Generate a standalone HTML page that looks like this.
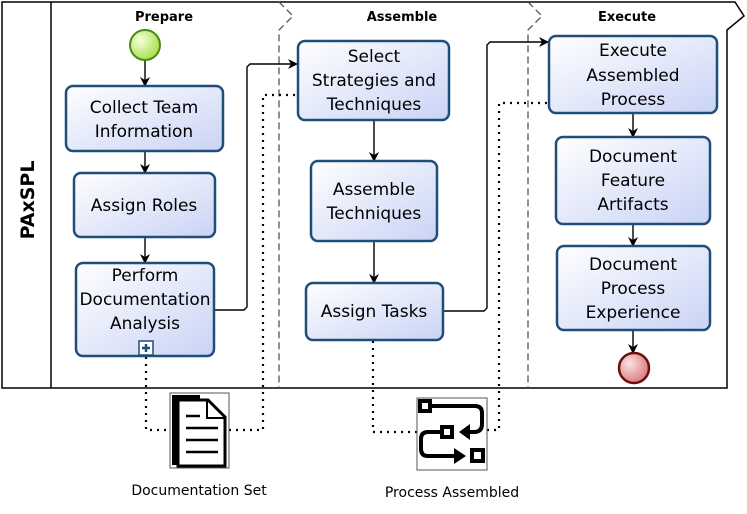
<!DOCTYPE html>
<html><head><meta charset="utf-8"><style>
html,body{margin:0;padding:0;background:#fff;width:747px;height:514px;overflow:hidden}
svg{display:block}
.t{font-family:"DejaVu Sans","Liberation Sans",sans-serif;font-size:17px;fill:#000;text-anchor:middle}
.h{font-family:"DejaVu Sans","Liberation Sans",sans-serif;font-size:13px;font-weight:bold;text-anchor:middle}
.s{font-family:"DejaVu Sans","Liberation Sans",sans-serif;font-size:14px;text-anchor:middle}
.box{fill:url(#g);stroke:#1f4e79;stroke-width:2.5}
.c{fill:none;stroke:#000;stroke-width:1.4}
.d{fill:none;stroke:#000;stroke-width:2.2;stroke-dasharray:2 5}
</style></head><body>
<svg width="747" height="514" viewBox="0 0 747 514" xmlns="http://www.w3.org/2000/svg">
<defs>
<linearGradient id="g" x1="0" y1="0" x2="1" y2="1"><stop offset="0" stop-color="#ffffff"/><stop offset="1" stop-color="#c9d3f5"/></linearGradient>
<radialGradient id="gs" cx="0.35" cy="0.35" r="0.7"><stop offset="0" stop-color="#f4ffd8"/><stop offset="1" stop-color="#a6e04a"/></radialGradient>
<radialGradient id="ge" cx="0.35" cy="0.35" r="0.7"><stop offset="0" stop-color="#fbe0e0"/><stop offset="1" stop-color="#d97a7a"/></radialGradient>
<marker id="a" viewBox="0 0 10 10" refX="9" refY="5" markerWidth="10" markerHeight="10" orient="auto" markerUnits="userSpaceOnUse"><path d="M0,0 L10,5 L0,10 L3,5 z" fill="#000"/></marker>
</defs>
<path d="M2,2 L735,2 L744,16 L727,30 L727,388 L2,388 Z" fill="none" stroke="#000" stroke-width="1.5"/>
<line x1="51" y1="2" x2="51" y2="388" stroke="#000" stroke-width="1.5"/>
<text class="h" transform="translate(34,200) rotate(-90)" style="font-size:19px">PAxSPL</text>
<path d="M279,2 L293,16 L279,30 L279,388" fill="none" stroke="#555" stroke-width="1.3" stroke-dasharray="7 4"/>
<path d="M528,2 L542,16 L528,30 L528,388" fill="none" stroke="#555" stroke-width="1.3" stroke-dasharray="7 4"/>
<text class="h" x="164" y="21">Prepare</text>
<text class="h" x="402" y="21">Assemble</text>
<text class="h" x="627" y="21">Execute</text>
<line class="c" x1="145" y1="60" x2="145" y2="86" marker-end="url(#a)"/>
<line class="c" x1="145" y1="151" x2="145" y2="173" marker-end="url(#a)"/>
<line class="c" x1="145" y1="237" x2="145" y2="263" marker-end="url(#a)"/>
<path class="c" d="M214,310 L244,310 L247,307 L247,67 L250,64 L297,64" marker-end="url(#a)"/>
<line class="c" x1="374" y1="120" x2="374" y2="161" marker-end="url(#a)"/>
<line class="c" x1="374" y1="241" x2="374" y2="283" marker-end="url(#a)"/>
<path class="c" d="M443,311 L484,311 L487,308 L487,45 L490,42 L548,42" marker-end="url(#a)"/>
<line class="c" x1="633" y1="113" x2="633" y2="137" marker-end="url(#a)"/>
<line class="c" x1="633" y1="224" x2="633" y2="246" marker-end="url(#a)"/>
<line class="c" x1="633" y1="330" x2="633" y2="353" marker-end="url(#a)"/>
<path class="d" d="M146,357 L146,430 L170,430"/>
<path class="d" d="M229,430 L263,430 L263,95 L298,95"/>
<path class="d" d="M373,341 L373,432 L417,432"/>
<path class="d" d="M487,430 L499,430 L499,103 L549,103"/>
<circle cx="145" cy="45" r="15" fill="url(#gs)" stroke="#4a8a10" stroke-width="2"/>
<circle cx="634" cy="368" r="15" fill="url(#ge)" stroke="#6b0f0f" stroke-width="2.5"/>
<rect class="box" x="66" y="86" width="157" height="65" rx="7"/>
<text class="t" x="144" y="113">Collect Team</text><text class="t" x="144" y="137">Information</text>
<rect class="box" x="74" y="173" width="141" height="64" rx="7"/>
<text class="t" x="144" y="211">Assign Roles</text>
<rect class="box" x="76" y="263" width="138" height="93" rx="7"/>
<text class="t" x="145" y="281">Perform</text><text class="t" x="145" y="305">Documentation</text><text class="t" x="145" y="329">Analysis</text>
<rect x="139" y="341" width="14" height="14" fill="#fff" stroke="#1f4e79" stroke-width="1.5"/>
<path d="M146,344 V352 M142,348 H150" stroke="#1f4e79" stroke-width="2.5"/>
<rect class="box" x="298" y="41" width="151" height="79" rx="7"/>
<text class="t" x="374" y="62">Select</text><text class="t" x="374" y="86">Strategies and</text><text class="t" x="374" y="110">Techniques</text>
<rect class="box" x="311" y="161" width="126" height="80" rx="7"/>
<text class="t" x="374" y="195">Assemble</text><text class="t" x="374" y="219">Techniques</text>
<rect class="box" x="306" y="283" width="137" height="57" rx="7"/>
<text class="t" x="374" y="317">Assign Tasks</text>
<rect class="box" x="549" y="36" width="168" height="77" rx="7"/>
<text class="t" x="633" y="56">Execute</text><text class="t" x="633" y="81">Assembled</text><text class="t" x="633" y="105">Process</text>
<rect class="box" x="556" y="137" width="154" height="87" rx="7"/>
<text class="t" x="633" y="162">Document</text><text class="t" x="633" y="186">Feature</text><text class="t" x="633" y="210">Artifacts</text>
<rect class="box" x="557" y="246" width="153" height="84" rx="7"/>
<text class="t" x="633" y="270">Document</text><text class="t" x="633" y="294">Process</text><text class="t" x="633" y="318">Experience</text>
<rect x="170" y="393" width="59" height="75" fill="#fff" stroke="#555" stroke-width="1"/>
<rect x="172" y="395" width="28" height="70" fill="#000"/>
<path d="M178,400 L208,400 L225,417 L225,466 L178,466 Z" fill="#fff" stroke="#000" stroke-width="3"/>
<path d="M207,400 L207,418 L225,418" fill="none" stroke="#000" stroke-width="2"/>
<path d="M186,416 H200 M186,428 H218 M186,440 H218 M186,452 H218" stroke="#000" stroke-width="2.5"/>
<rect x="417" y="398" width="70" height="72" fill="#fff" stroke="#555" stroke-width="1"/>
<rect x="418" y="399" width="14" height="14" fill="#000"/><rect x="422" y="403" width="6" height="6" fill="#fff"/>
<path d="M432,406 H475 Q482,406 482,413 V424 Q482,432 474,432 H465" fill="none" stroke="#000" stroke-width="4"/>
<path d="M459,432 L470,424 L470,440 Z" fill="#000"/>
<rect x="440" y="425" width="14" height="14" fill="#000"/><rect x="444" y="429" width="6" height="6" fill="#fff"/>
<path d="M440,432 H428 Q421,432 421,439 V449 Q421,456 428,456 H458" fill="none" stroke="#000" stroke-width="4"/>
<path d="M466,456 L454,448 L454,464 Z" fill="#000"/>
<rect x="470" y="448" width="15" height="15" fill="#000"/><rect x="474" y="452" width="7" height="7" fill="#fff"/>
<text class="s" x="199" y="495">Documentation Set</text>
<text class="s" x="452" y="497">Process Assembled</text>
</svg>
</body></html>
